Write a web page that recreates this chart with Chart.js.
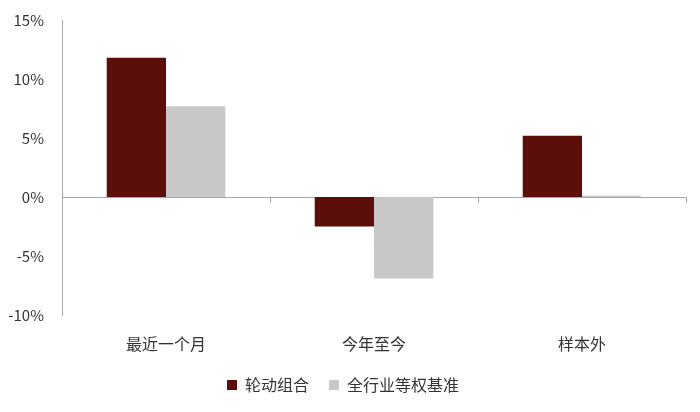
<!DOCTYPE html>
<html>
<head>
<meta charset="utf-8">
<script src="https://cdn.jsdelivr.net/npm/chart.js@4/dist/chart.umd.min.js"></script>
<style>
  html, body { margin: 0; padding: 0; background: #fff; }
  #wrap { width: 700px; height: 412px; }
</style>
</head>
<body>
<div id="wrap"><canvas id="chart" width="700" height="412"></canvas></div>
<script>
const CATEGORIES = ['最近一个月', '今年至今', '样本外'];
const SERIES_NAMES = ['轮动组合', '全行业等权基准'];
const ROTATION = [11.8, -2.5, 5.2];
const BENCHMARK = [7.7, -6.9, 0.1];
const Y_TICKS = [-10, -5, 0, 5, 10, 15];

const FONT = '"Noto Sans CJK SC", "Noto Sans", sans-serif';
const AXIS_COLOR = '#a6a6a6';
const TEXT_COLOR = '#333333';

new Chart(document.getElementById('chart'), {
  type: 'bar',
  data: {
    labels: CATEGORIES,
    datasets: [
      { label: SERIES_NAMES[0], data: ROTATION, backgroundColor: '#5c0f0a' },
      { label: SERIES_NAMES[1], data: BENCHMARK, backgroundColor: '#c8c8c8' }
    ]
  },
  options: {
    responsive: false,
    animation: false,
    devicePixelRatio: 1,
    categoryPercentage: 0.57,
    barPercentage: 1.0,
    layout: { padding: { top: 20, right: 14, left: 0, bottom: 9 } },
    plugins: {
      tooltip: { enabled: false },
      legend: {
        position: 'bottom',
        labels: {
          boxWidth: 10, boxHeight: 10, padding: 20,
          color: TEXT_COLOR,
          font: { family: FONT, size: 16 }
        }
      }
    },
    scales: {
      y: {
        min: -10, max: 15,
        afterBuildTicks: (scale) => { scale.ticks = Y_TICKS.map(v => ({ value: v })); },
        afterFit: (scale) => {
          scale.width = 62;
          scale.paddingTop = 0;
          scale.paddingBottom = 0;
        },
        border: { display: true, color: AXIS_COLOR, width: 1 },
        grid: { display: false, drawTicks: false },
        ticks: {
          padding: 18,
          color: TEXT_COLOR,
          font: { family: FONT, size: 15 },
          callback: (v) => v + '%'
        }
      },
      x: {
        position: 'bottom',
        border: { display: false },
        grid: { display: false },
        afterFit: (scale) => { scale.height = 42; },
        ticks: {
          padding: 11,
          color: TEXT_COLOR,
          font: { family: FONT, size: 16 }
        }
      },
      x2: {
        type: 'category',
        position: { y: 0 },
        offset: true,
        border: { display: true, color: AXIS_COLOR, width: 1 },
        grid: { offset: true, drawOnChartArea: false, drawTicks: true, tickLength: 5, color: AXIS_COLOR },
        ticks: { display: false }
      }
    }
  }
});
</script>
</body>
</html>
